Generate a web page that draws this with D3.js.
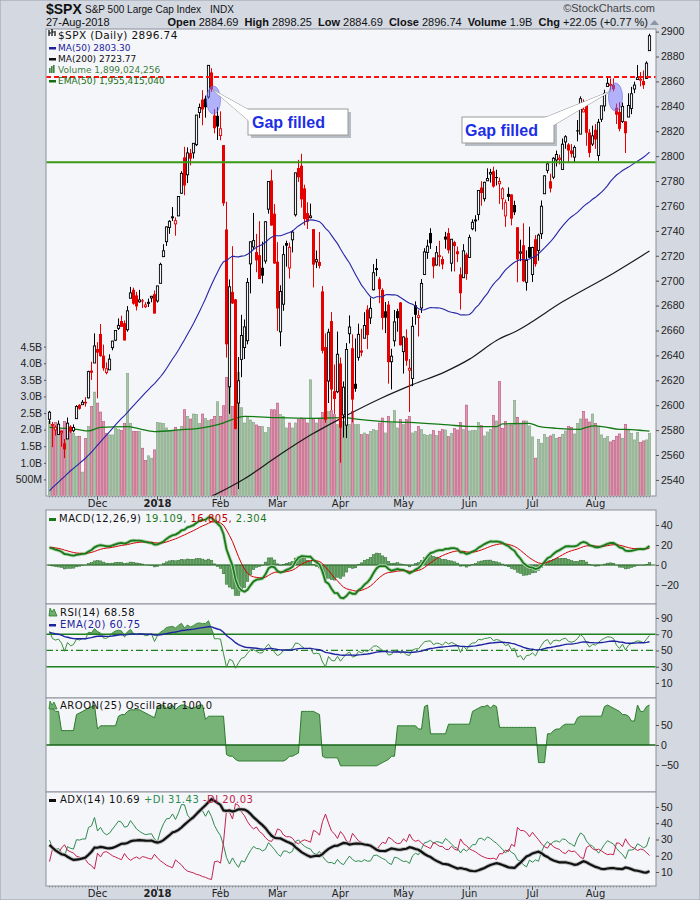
<!DOCTYPE html>
<html>
<head>
<meta charset="utf-8">
<script src="https://cdn.jsdelivr.net/npm/d3@7"></script>
<style>
  body { margin: 0; background: #fff; }
  text { font-family: "Liberation Sans", Arial, sans-serif; }
</style>
</head>
<body>
<svg id="chart" width="700" height="900"></svg>
<script>
// ---- data ----
var dates = [
 "2017-11-08","2017-11-09","2017-11-10","2017-11-13","2017-11-14","2017-11-15","2017-11-16","2017-11-17","2017-11-20","2017-11-21",
 "2017-11-22","2017-11-24","2017-11-27","2017-11-28","2017-11-29","2017-11-30","2017-12-01","2017-12-04","2017-12-05","2017-12-06",
 "2017-12-07","2017-12-08","2017-12-11","2017-12-12","2017-12-13","2017-12-14","2017-12-15","2017-12-18","2017-12-19","2017-12-20",
 "2017-12-21","2017-12-22","2017-12-26","2017-12-27","2017-12-28","2017-12-29","2018-01-02","2018-01-03","2018-01-04","2018-01-05",
 "2018-01-08","2018-01-09","2018-01-10","2018-01-11","2018-01-12","2018-01-16","2018-01-17","2018-01-18","2018-01-19","2018-01-22",
 "2018-01-23","2018-01-24","2018-01-25","2018-01-26","2018-01-29","2018-01-30","2018-01-31","2018-02-01","2018-02-02","2018-02-05",
 "2018-02-06","2018-02-07","2018-02-08","2018-02-09","2018-02-12","2018-02-13","2018-02-14","2018-02-15","2018-02-16","2018-02-20",
 "2018-02-21","2018-02-22","2018-02-23","2018-02-26","2018-02-27","2018-02-28","2018-03-01","2018-03-02","2018-03-05","2018-03-06",
 "2018-03-07","2018-03-08","2018-03-09","2018-03-12","2018-03-13","2018-03-14","2018-03-15","2018-03-16","2018-03-19","2018-03-20",
 "2018-03-21","2018-03-22","2018-03-23","2018-03-26","2018-03-27","2018-03-28","2018-03-29","2018-04-02","2018-04-03","2018-04-04",
 "2018-04-05","2018-04-06","2018-04-09","2018-04-10","2018-04-11","2018-04-12","2018-04-13","2018-04-16","2018-04-17","2018-04-18",
 "2018-04-19","2018-04-20","2018-04-23","2018-04-24","2018-04-25","2018-04-26","2018-04-27","2018-04-30","2018-05-01","2018-05-02",
 "2018-05-03","2018-05-04","2018-05-07","2018-05-08","2018-05-09","2018-05-10","2018-05-11","2018-05-14","2018-05-15","2018-05-16",
 "2018-05-17","2018-05-18","2018-05-21","2018-05-22","2018-05-23","2018-05-24","2018-05-25","2018-05-29","2018-05-30","2018-05-31",
 "2018-06-01","2018-06-04","2018-06-05","2018-06-06","2018-06-07","2018-06-08","2018-06-11","2018-06-12","2018-06-13","2018-06-14",
 "2018-06-15","2018-06-18","2018-06-19","2018-06-20","2018-06-21","2018-06-22","2018-06-25","2018-06-26","2018-06-27","2018-06-28",
 "2018-06-29","2018-07-02","2018-07-03","2018-07-05","2018-07-06","2018-07-09","2018-07-10","2018-07-11","2018-07-12","2018-07-13",
 "2018-07-16","2018-07-17","2018-07-18","2018-07-19","2018-07-20","2018-07-23","2018-07-24","2018-07-25","2018-07-26","2018-07-27",
 "2018-07-30","2018-07-31","2018-08-01","2018-08-02","2018-08-03","2018-08-06","2018-08-07","2018-08-08","2018-08-09","2018-08-10",
 "2018-08-13","2018-08-14","2018-08-15","2018-08-16","2018-08-17","2018-08-20","2018-08-21","2018-08-22","2018-08-23","2018-08-24",
 "2018-08-27"];

var open = [
 2588.7,2584.0,2580.2,2576.5,2577.8,2569.4,2572.9,2582.9,2579.5,2589.2,
 2600.3,2600.4,2602.7,2605.9,2627.8,2633.9,2645.1,2657.2,2639.8,2626.2,
 2628.4,2646.2,2652.2,2661.7,2667.6,2665.9,2660.6,2685.9,2692.7,2688.2,
 2683.0,2684.2,2679.1,2682.1,2686.1,2689.2,2683.7,2697.9,2719.3,2731.3,
 2742.7,2751.2,2745.6,2752.0,2770.2,2799.0,2785.0,2802.4,2802.6,2809.2,
 2835.1,2845.4,2846.2,2847.5,2867.2,2832.7,2832.4,2816.5,2808.9,2741.1,
 2614.8,2691.0,2685.0,2601.8,2636.8,2646.3,2651.8,2713.5,2727.1,2723.0,
 2720.5,2710.4,2715.8,2757.4,2780.5,2753.8,2715.2,2658.9,2681.1,2730.2,
 2710.2,2732.8,2752.9,2790.5,2792.3,2774.1,2754.3,2750.6,2741.4,2715.1,
 2715.0,2691.4,2646.7,2619.4,2667.6,2611.3,2610.8,2633.5,2592.2,2584.0,
 2657.4,2645.8,2617.2,2638.4,2643.9,2653.8,2676.9,2670.1,2692.7,2710.1,
 2701.2,2692.6,2675.4,2680.8,2634.9,2651.7,2675.5,2682.5,2643.0,2654.2,
 2628.1,2621.5,2680.3,2670.3,2678.1,2705.0,2722.7,2738.3,2718.6,2712.6,
 2719.7,2717.4,2735.4,2738.3,2714.0,2730.9,2723.6,2705.1,2702.4,2721.0,
 2718.7,2741.7,2748.5,2753.2,2774.8,2765.8,2780.2,2785.6,2787.9,2783.2,
 2777.8,2765.8,2752.0,2769.7,2769.3,2760.8,2742.9,2722.1,2728.5,2698.7,
 2727.1,2705.0,2733.3,2724.2,2737.7,2769.8,2788.6,2779.8,2783.1,2796.9,
 2797.4,2789.3,2811.4,2809.4,2804.6,2799.2,2820.7,2817.7,2835.5,2842.4,
 2819.0,2809.7,2821.2,2800.5,2829.6,2840.3,2855.9,2856.8,2857.2,2838.9,
 2835.5,2827.9,2828.0,2831.4,2838.3,2853.9,2861.5,2861.0,2860.3,2862.4,
 2884.7];

var high = [
 2595.5,2586.5,2583.8,2587.7,2579.7,2572.8,2590.1,2583.9,2584.6,2600.0,
 2600.9,2604.2,2606.4,2627.7,2634.9,2657.7,2650.6,2665.2,2648.7,2634.4,
 2640.9,2651.7,2660.3,2669.7,2671.9,2668.1,2679.6,2695.0,2694.4,2691.0,
 2692.6,2685.4,2682.7,2685.6,2687.7,2692.1,2695.9,2714.4,2729.3,2743.5,
 2748.5,2759.1,2750.8,2767.6,2787.9,2807.5,2807.0,2805.8,2810.3,2833.0,
 2842.2,2853.0,2848.6,2872.9,2870.6,2837.8,2839.3,2836.0,2808.9,2763.4,
 2701.0,2727.7,2685.3,2638.7,2672.6,2668.8,2702.1,2731.5,2754.4,2737.6,
 2747.8,2731.3,2747.8,2780.0,2789.2,2761.5,2730.9,2696.3,2728.1,2732.1,
 2730.6,2740.5,2786.6,2797.0,2801.9,2777.1,2763.0,2761.9,2741.4,2724.2,
 2739.1,2695.7,2657.7,2661.4,2674.8,2632.7,2659.1,2638.3,2619.1,2649.9,
 2672.1,2656.9,2653.6,2665.5,2661.4,2674.7,2680.3,2686.5,2713.3,2717.5,
 2702.8,2693.9,2682.9,2683.6,2645.3,2676.5,2677.4,2682.9,2655.3,2660.9,
 2637.1,2670.9,2683.4,2676.3,2701.3,2726.1,2732.9,2742.1,2718.6,2727.8,
 2732.0,2719.5,2739.2,2742.2,2733.3,2732.0,2727.4,2710.7,2729.3,2722.5,
 2736.9,2749.2,2752.6,2772.4,2779.9,2779.4,2790.2,2789.8,2791.5,2789.1,
 2782.8,2775.0,2765.1,2774.9,2769.3,2764.2,2742.9,2732.9,2746.1,2724.3,
 2743.3,2727.3,2736.6,2737.8,2764.4,2784.7,2795.6,2785.9,2799.2,2804.5,
 2801.2,2814.2,2816.8,2810.5,2809.7,2808.6,2829.0,2848.0,2845.6,2843.2,
 2821.7,2824.5,2825.8,2829.9,2840.4,2853.3,2863.4,2862.4,2862.5,2842.2,
 2843.4,2843.1,2828.0,2850.5,2855.6,2859.8,2873.2,2867.5,2868.8,2876.2,
 2898.3];

var low = [
 2585.0,2566.3,2575.6,2576.5,2566.6,2557.5,2572.9,2577.6,2578.2,2589.2,
 2596.4,2600.4,2598.9,2605.4,2620.3,2633.9,2605.5,2639.0,2627.7,2624.8,
 2628.4,2644.1,2651.5,2660.4,2662.9,2652.0,2659.1,2685.9,2680.7,2676.1,
 2682.4,2678.1,2678.0,2678.9,2682.7,2673.6,2682.4,2697.8,2719.1,2727.9,
 2737.6,2747.9,2736.1,2752.0,2769.6,2768.6,2778.4,2792.6,2798.1,2808.1,
 2830.6,2824.8,2830.9,2846.2,2851.5,2818.3,2813.0,2812.7,2760.0,2638.2,
 2593.1,2681.3,2580.6,2532.7,2622.5,2637.1,2648.9,2689.8,2725.1,2706.8,
 2701.3,2697.8,2713.7,2753.8,2744.2,2713.5,2659.7,2647.3,2675.8,2711.3,
 2701.7,2722.7,2751.5,2779.3,2758.7,2744.4,2741.5,2750.0,2694.6,2710.1,
 2709.8,2641.6,2585.9,2601.8,2596.1,2593.1,2609.7,2553.8,2574.0,2573.6,
 2649.6,2586.3,2610.8,2635.8,2639.3,2653.8,2645.1,2665.2,2692.1,2703.6,
 2681.9,2660.6,2657.9,2617.3,2612.7,2647.2,2659.0,2648.0,2625.4,2631.7,
 2594.6,2615.3,2664.7,2655.2,2674.1,2704.5,2717.5,2725.5,2701.9,2712.2,
 2711.4,2709.2,2725.7,2721.9,2707.4,2707.4,2715.0,2676.8,2702.4,2700.7,
 2718.7,2740.5,2739.5,2748.5,2760.2,2763.6,2780.2,2778.8,2774.7,2776.5,
 2761.7,2757.1,2743.2,2763.9,2744.4,2752.7,2698.7,2715.6,2699.0,2692.0,
 2718.0,2699.0,2711.2,2716.0,2733.5,2769.8,2786.2,2770.8,2781.5,2791.7,
 2793.4,2789.2,2805.9,2795.1,2799.0,2795.1,2811.9,2817.7,2835.3,2808.3,
 2799.0,2808.1,2805.9,2796.3,2827.4,2836.0,2855.9,2853.1,2852.0,2825.8,
 2819.9,2826.6,2802.5,2831.4,2833.7,2850.6,2861.3,2856.1,2854.0,2862.4,
 2884.7];

var close = [
 2594.4,2584.6,2582.3,2584.8,2578.9,2564.6,2585.6,2578.9,2582.1,2599.0,
 2597.1,2602.4,2601.4,2627.0,2626.1,2647.6,2642.2,2639.4,2629.6,2629.3,
 2637.0,2651.5,2660.0,2664.1,2662.9,2652.0,2675.8,2690.2,2681.5,2679.3,
 2684.6,2683.3,2680.5,2682.6,2687.5,2673.6,2695.8,2713.1,2724.0,2743.2,
 2747.7,2751.3,2748.2,2767.6,2786.2,2776.4,2802.6,2798.0,2810.3,2833.0,
 2839.1,2837.5,2839.3,2872.9,2853.5,2822.4,2823.8,2822.0,2762.1,2648.9,
 2695.1,2681.7,2581.0,2619.6,2656.0,2662.9,2698.6,2731.2,2732.2,2716.3,
 2701.3,2704.0,2747.3,2779.6,2744.3,2713.8,2677.7,2691.3,2720.9,2728.1,
 2726.8,2739.0,2786.6,2783.0,2765.3,2749.5,2747.3,2752.0,2712.9,2716.9,
 2711.9,2643.7,2588.3,2658.6,2612.6,2605.0,2640.9,2581.9,2614.5,2644.7,
 2662.8,2604.5,2613.2,2656.9,2642.2,2664.0,2656.3,2677.8,2706.4,2708.6,
 2693.1,2670.1,2670.3,2634.6,2639.4,2666.9,2669.9,2648.1,2654.8,2635.7,
 2629.7,2663.4,2672.6,2671.9,2697.8,2723.1,2727.7,2730.1,2711.5,2722.5,
 2720.1,2713.0,2733.0,2724.4,2733.3,2727.8,2721.3,2689.9,2724.0,2705.3,
 2734.6,2746.9,2748.8,2772.4,2770.4,2779.0,2782.0,2786.9,2775.6,2782.5,
 2779.7,2773.8,2762.6,2767.3,2749.8,2754.9,2717.1,2723.1,2699.6,2716.3,
 2718.4,2726.7,2713.2,2736.6,2759.8,2784.2,2793.8,2774.0,2798.3,2801.3,
 2798.4,2809.6,2815.6,2804.5,2801.8,2807.0,2820.4,2846.1,2837.4,2818.8,
 2802.6,2816.3,2813.4,2827.2,2840.4,2850.4,2858.5,2857.7,2853.6,2833.3,
 2821.9,2840.0,2818.4,2840.7,2850.1,2857.1,2863.0,2861.8,2857.0,2874.7,
 2896.7];

// volume, billions of shares
var volume = [
 2.24,2.09,2.22,2.04,1.99,2.25,1.94,2.04,1.89,1.79,
 1.80,0.72,1.73,2.10,2.70,3.13,2.80,2.53,2.24,1.89,
 1.84,1.84,2.04,2.00,1.97,2.19,3.69,2.19,1.94,1.94,
 1.94,1.44,1.07,1.21,1.14,1.39,2.22,2.20,2.18,2.05,
 1.98,1.97,2.07,1.97,2.10,2.60,2.40,2.32,2.47,2.45,
 2.18,2.47,2.33,2.27,2.30,2.40,2.84,2.40,2.72,3.57,
 3.40,2.70,3.30,3.72,2.66,2.20,2.39,2.29,2.22,2.14,
 2.10,2.09,1.91,2.07,2.60,2.60,2.80,2.45,2.40,2.05,
 2.20,2.05,2.20,2.30,2.35,2.30,2.20,3.50,2.30,2.20,
 2.30,2.52,2.55,2.55,2.57,2.45,2.15,2.25,2.25,2.45,
 2.15,2.55,2.15,2.15,1.85,1.90,1.85,1.95,2.00,1.97,
 2.20,2.35,1.90,2.40,2.20,2.57,2.05,2.30,2.15,2.30,
 2.40,1.90,1.95,2.10,2.00,1.85,1.83,1.85,1.97,1.82,
 1.95,2.00,1.99,1.79,1.89,2.04,1.99,2.22,2.00,2.74,
 1.96,1.98,1.98,2.22,2.12,1.81,1.93,2.01,2.43,2.26,
 3.45,2.04,2.25,2.14,2.14,2.88,2.37,2.19,2.26,2.26,
 2.11,1.78,1.14,1.71,1.59,1.86,1.77,1.81,1.86,1.74,
 1.77,1.86,1.96,2.09,2.07,1.87,2.19,2.32,2.55,2.32,
 2.23,2.47,2.19,2.09,1.84,1.74,1.79,1.63,1.68,1.80,
 1.87,1.74,2.16,1.99,1.89,1.69,1.92,1.61,1.66,1.69,
 1.89];

// earlier sessions (28-Aug-2017 .. 7-Nov-2017), only used to warm up the indicators
var warmHigh = [2448.9,2449.2,2460.4,2475.0,
 2480.4,2472.0,2469.6,2468.6,2467.1,2489.0,2496.8,2498.4,2498.4,2500.2,2508.3,2507.8,2508.9,2507.2,2503.5,2502.5,2503.5,2511.8,2510.8,2519.4,
 2529.2,2535.1,2540.5,2552.5,2550.0,2551.8,2555.2,2555.2,2555.3,2557.7,2559.7,2559.7,2562.4,2562.4,2575.4,2578.3,2572.2,2567.4,2567.1,2583.0,2580.2,2578.3,
 2588.4,2581.1,2588.4,2593.4,2597.0];
var warmLow = [2437.9,2428.2,2443.8,2462.2,
 2473.9,2446.6,2459.2,2460.3,2459.4,2474.0,2488.2,2492.1,2491.9,2493.2,2499.9,2503.2,2496.3,2499.0,2496.5,2488.0,2495.1,2499.0,2502.9,2507.8,
 2520.4,2528.9,2531.8,2540.0,2543.8,2541.6,2544.4,2544.9,2548.3,2552.1,2554.6,2551.9,2557.7,2547.9,2567.6,2564.3,2566.0,2544.0,2559.5,2565.9,2568.7,2572.1,
 2574.9,2566.2,2576.8,2583.2,2584.4];
var warmClose = [2444.2,2446.3,2457.6,2471.7,
 2476.6,2457.9,2465.5,2465.1,2461.4,2488.1,2496.5,2498.4,2495.6,2500.2,2503.9,2506.7,2508.2,2500.6,2502.2,2496.7,2496.8,2507.0,2510.1,2519.4,
 2529.1,2534.6,2537.7,2552.1,2549.3,2544.7,2550.6,2555.2,2550.9,2553.2,2557.6,2559.4,2561.3,2562.1,2575.2,2565.0,2569.1,2557.2,2560.4,2581.1,2572.8,2575.3,
 2579.4,2579.9,2587.8,2591.1,2590.6];

// MA(200) of price and EMA(50) of volume
var ma200Dates = ["2017-11-08","2017-12-07","2018-01-08","2018-01-30","2018-02-13","2018-03-01","2018-03-16","2018-04-03","2018-04-19",
                  "2018-05-04","2018-05-21","2018-06-01","2018-06-14","2018-06-25","2018-07-17","2018-08-09","2018-08-27"];
var ma200Vals = [2462,2488,2512,2528,2541,2559,2576,2590.5,2605,2616.5,2627,2637,2652,2660,2683,2706,2723.8];
var volEmaDates = ["2017-11-08","2017-11-15","2017-11-21","2017-11-28","2017-12-04","2017-12-15","2017-12-21","2017-12-29","2018-01-11",
                   "2018-01-25","2018-02-01","2018-02-07","2018-02-13","2018-03-01","2018-03-16","2018-04-03","2018-04-11","2018-04-23",
                   "2018-05-03","2018-05-22","2018-05-31","2018-06-14","2018-06-18","2018-06-29","2018-07-05","2018-07-13","2018-07-25",
                   "2018-07-27","2018-08-01","2018-08-06","2018-08-13","2018-08-17","2018-08-23","2018-08-27"];
var volEmaVals = [2.07,2.04,2.01,1.96,2.07,2.09,2.02,1.94,1.99,2.07,2.17,2.31,2.40,2.36,2.34,2.36,2.30,2.24,
                  2.22,2.14,2.10,2.09,2.17,2.19,2.10,2.04,2.01,2.07,2.11,2.08,2.01,2.00,1.97,1.955];

var levelPrices = [2863.5, 2795.2];   // red dashed, green solid
var gapDates = ["2018-01-30", "2018-08-10"];
var gapPrices = [2845, 2847.5];

var monthStarts = ["2017-12-01","2018-01-02","2018-02-01","2018-03-01","2018-04-02","2018-05-01","2018-06-01","2018-07-02","2018-08-01"];
var monthLabels = ["Dec","2018","Feb","Mar","Apr","May","Jun","Jul","Aug"];
var priceTicks = [2540,2560,2580,2600,2620,2640,2660,2680,2700,2720,2740,2760,2780,2800,2820,2840,2860,2880,2900];
var volTicks = [0.5,1.0,1.5,2.0,2.5,3.0,3.5,4.0,4.5];
var macdTicks = [-20,0,20,40];
var rsiTicks = [10,30,50,70,90];
var aroonTicks = [-50,0,50];
var adxTicks = [10,20,30,40,50];

// ---- indicators ----
var W = warmClose.length;
var cA = warmClose.concat(close), hA = warmHigh.concat(high), lA = warmLow.concat(low);
var N = cA.length;

function sma(a, p, i) { var s = 0; for (var k = i - p + 1; k <= i; k++) s += a[k]; return s / p; }
function ema(a, p, start) {
  var out = new Array(a.length).fill(null), k = 2 / (p + 1), seed = start + p - 1;
  out[seed] = sma(a, p, seed);
  for (var i = seed + 1; i < a.length; i++) out[i] = a[i] * k + out[i - 1] * (1 - k);
  return out;
}
var ma50 = cA.map(function(c, i) { return i >= 49 ? sma(cA, 50, i) : null; });
var e12 = ema(cA, 12, 0), e26 = ema(cA, 26, 0);
var macd = cA.map(function(c, i) { return e26[i] == null ? null : e12[i] - e26[i]; });
var sig = ema(macd, 9, 25);
var hist = macd.map(function(m, i) { return sig[i] == null ? null : m - sig[i]; });

var rsi = new Array(N).fill(null), ag = 0, al = 0;
for (var i = 1; i <= 14; i++) { var d = cA[i] - cA[i - 1]; if (d > 0) ag += d; else al -= d; }
ag /= 14; al /= 14; rsi[14] = 100 - 100 / (1 + ag / al);
for (var i = 15; i < N; i++) {
  var d = cA[i] - cA[i - 1];
  ag = (ag * 13 + Math.max(d, 0)) / 14; al = (al * 13 + Math.max(-d, 0)) / 14;
  rsi[i] = 100 - 100 / (1 + ag / al);
}
var rsiEma = ema(rsi, 20, 14);

var tr = [0], pdm = [0], mdm = [0];
for (var i = 1; i < N; i++) {
  var up = hA[i] - hA[i - 1], dn = lA[i - 1] - lA[i];
  pdm[i] = up > dn && up > 0 ? up : 0;
  mdm[i] = dn > up && dn > 0 ? dn : 0;
  tr[i] = Math.max(hA[i] - lA[i], Math.abs(hA[i] - cA[i - 1]), Math.abs(lA[i] - cA[i - 1]));
}
var sTr = 0, sP = 0, sM = 0, pdi = new Array(N).fill(null), mdi = new Array(N).fill(null), dx = [], adx = new Array(N).fill(null);
for (var i = 1; i < N; i++) {
  if (i <= 14) { sTr += tr[i]; sP += pdm[i]; sM += mdm[i]; }
  else { sTr = sTr - sTr / 14 + tr[i]; sP = sP - sP / 14 + pdm[i]; sM = sM - sM / 14 + mdm[i]; }
  if (i >= 14) {
    pdi[i] = 100 * sP / sTr; mdi[i] = 100 * sM / sTr;
    dx[i] = 100 * Math.abs(pdi[i] - mdi[i]) / (pdi[i] + mdi[i]);
  }
}
adx[27] = d3.mean(dx.slice(14, 28));
for (var i = 28; i < N; i++) adx[i] = (adx[i - 1] * 13 + dx[i]) / 14;

var aroon = new Array(N).fill(null);
for (var i = 25; i < N; i++) {
  var hi = i - 25, lo = i - 25;
  for (var j = i - 25; j <= i; j++) { if (hA[j] >= hA[hi]) hi = j; if (lA[j] <= lA[lo]) lo = j; }
  aroon[i] = 100 * (25 - (i - hi)) / 25 - 100 * (25 - (i - lo)) / 25;
}
function cut(a) { return a.slice(W); }
ma50 = cut(ma50); macd = cut(macd); sig = cut(sig); hist = cut(hist);
rsi = cut(rsi); rsiEma = cut(rsiEma); pdi = cut(pdi); mdi = cut(mdi); adx = cut(adx); aroon = cut(aroon);

// ---- layout ----
var svg = d3.select("#chart");
var L = 46, R = 656;
var OUTER = "#d3d8e1", PLOT = "#f5f6fa", FRAME = "#8b909a";
var RED = "#e60000", GREEN_LINE = "#1f7f1f";

svg.append("rect").attr("width", 700).attr("height", 900).attr("fill", OUTER).attr("stroke", "#9aa0aa");

var x = d3.scalePoint().domain(dates).range([49.5, 649.5]);

function panel(id, y0, y1) {
  svg.append("rect").attr("x", L).attr("y", y0).attr("width", R - L).attr("height", y1 - y0)
    .attr("fill", PLOT).attr("stroke", FRAME);
  svg.append("clipPath").attr("id", id).append("rect").attr("x", L + 0.5).attr("y", y0 + 0.5)
    .attr("width", R - L - 1).attr("height", y1 - y0 - 1);
  return svg.append("g").attr("clip-path", "url(#" + id + ")");
}
function rightAxis(scale, ticks, fmt) {
  var g = svg.append("g").attr("transform", "translate(" + R + ",0)")
    .call(d3.axisRight(scale).tickValues(ticks).tickSize(3).tickPadding(2).tickFormat(fmt || d3.format("d")));
  g.select(".domain").remove();
  g.selectAll("line").attr("stroke", "#555");
  g.selectAll("text").attr("fill", "#222").style("font-family", "Liberation Sans, Arial, sans-serif").style("font-size", "10.5px");
}
function legend(xp, yp, parts, size, ls) {
  var t = svg.append("text").attr("x", xp).attr("y", yp)
    .style("font-family", "DejaVu Sans, sans-serif").style("font-size", size + "px").style("letter-spacing", (ls || 0) + "px");
  parts.forEach(function(p) { t.append("tspan").attr("fill", p[1]).text(p[0]); });
}
function dash(xp, yp, color, h) {
  svg.append("rect").attr("x", xp).attr("y", yp - 4).attr("width", 7).attr("height", h || 2.5).attr("fill", color);
}
function mountain(xp, yp) {
  svg.append("path").attr("d", "M" + xp + "," + (yp + 1) + " l1,-8 l2,4 l2,-3 l3,7 z")
    .attr("fill", "#6fae6f").attr("stroke", "#2b7b2b").attr("stroke-width", 0.8);
}
function monthLabelsAt(yp) {
  monthStarts.forEach(function(d, k) {
    svg.append("text").attr("x", x(d)).attr("y", yp).attr("text-anchor", "middle")
      .style("font-family", "DejaVu Sans, sans-serif").style("font-size", "10px")
      .style("font-weight", monthLabels[k] === "2018" ? "bold" : "normal")
      .attr("fill", "#222").text(monthLabels[k]);
  });
}
function barTicks(yp) {
  svg.append("g").selectAll("line").data(dates).join("line")
    .attr("x1", function(d) { return x(d); }).attr("x2", function(d) { return x(d); })
    .attr("y1", yp).attr("y2", yp + 1.5)
    .attr("stroke", "#777").attr("stroke-width", 0.7);
  svg.append("g").selectAll("line").data(monthStarts).join("line")
    .attr("x1", function(d) { return x(d); }).attr("x2", function(d) { return x(d); })
    .attr("y1", yp).attr("y2", yp + 4).attr("stroke", "#555");
}

// ---- header ----
svg.append("text").attr("x", 46).attr("y", 14).style("font-size", "14px").style("font-weight", "bold").attr("fill", "#111").text("$SPX");
svg.append("text").attr("x", 85).attr("y", 13).style("font-size", "10px").attr("fill", "#111").text("S&P 500 Large Cap Index");
svg.append("text").attr("x", 210).attr("y", 13).style("font-size", "10px").attr("fill", "#111").text("INDX");
svg.append("text").attr("x", 46).attr("y", 26).style("font-size", "11px").attr("fill", "#111").text("27-Aug-2018");
(function() {
  var t = svg.append("text").attr("x", 648).attr("y", 26).attr("text-anchor", "end").style("font-size", "11px").attr("fill", "#111");
  [["Open", 1], [" 2884.69  ", 0], ["High", 1], [" 2898.25  ", 0], ["Low", 1], [" 2884.69  ", 0],
   ["Close", 1], [" 2896.74  ", 0], ["Volume", 1], [" 1.9B  ", 0], ["Chg", 1], [" +22.05 (+0.77 %)", 0]]
   .forEach(function(p) { t.append("tspan").style("font-weight", p[1] ? "bold" : "normal").attr("xml:space", "preserve").text(p[0]); });
})();
svg.append("path").attr("d", "M650,25 L654.5,20 L659,25 Z").attr("fill", "#8c95a6");
svg.append("text").attr("x", 655).attr("y", 12).attr("text-anchor", "end").style("font-size", "11px").attr("fill", "#444").text("\u00a9StockCharts.com");

// ---- main price panel ----
var yP = d3.scaleLinear().domain([2527.1, 2902.1]).range([496, 29]);
var yV = d3.scaleLinear().domain([0, 14.07]).range([496, 29]);
var gm = panel("clipMain", 29, 496);

var prevClose = close.map(function(c, i) { return i ? close[i - 1] : warmClose[W - 1]; });
var down = close.map(function(c, i) { return c < prevClose[i]; });

gm.append("g").selectAll("rect").data(volume).join("rect")
  .attr("x", function(v, i) { return x(dates[i]) - 1.2; }).attr("width", 2.4)
  .attr("y", function(v) { return yV(v); }).attr("height", function(v) { return yV(0) - yV(v); })
  .attr("fill", function(v, i) { return down[i] ? "#d99ab0" : "#a9c4a9"; })
  .attr("stroke", function(v, i) { return down[i] ? "#c0577e" : "#84a784"; }).attr("stroke-width", 0.6);

gm.append("path").datum(volEmaVals)
  .attr("d", d3.line().x(function(v, i) { return x(volEmaDates[i]); }).y(function(v) { return yV(v); }).curve(d3.curveMonotoneX))
  .attr("fill", "none").attr("stroke", "#137a13").attr("stroke-width", 1.3);

gm.append("path").datum(ma200Vals)
  .attr("d", d3.line().x(function(v, i) { return x(ma200Dates[i]); }).y(function(v) { return yP(v); }).curve(d3.curveMonotoneX))
  .attr("fill", "none").attr("stroke", "#1b1b1b").attr("stroke-width", 1.2);

// candles
var cg = gm.append("g");
close.forEach(function(c, i) {
  var xc = x(dates[i]), col = down[i] ? RED : "#000", hollow = c >= open[i];
  cg.append("line").attr("x1", xc).attr("x2", xc).attr("y1", yP(high[i])).attr("y2", yP(low[i]))
    .attr("stroke", col).attr("stroke-width", 1);
  var top = yP(Math.max(open[i], c)), bot = yP(Math.min(open[i], c));
  if (hollow) {
    cg.append("rect").attr("x", xc - 1.1).attr("y", top).attr("width", 2.2).attr("height", Math.max(bot - top, 1))
      .attr("fill", PLOT).attr("stroke", col).attr("stroke-width", 0.9);
  } else {
    cg.append("rect").attr("x", xc - 1.5).attr("y", top).attr("width", 3).attr("height", Math.max(bot - top, 1))
      .attr("fill", col);
  }
});

gm.append("path").datum(ma50)
  .attr("d", d3.line().defined(function(v) { return v != null; }).x(function(v, i) { return x(dates[i]); }).y(function(v) { return yP(v); }))
  .attr("fill", "none").attr("stroke", "#2424a6").attr("stroke-width", 1.1);

// legend
svg.append("path").attr("d", "M49,36 v-6 M49,33 h2 M52,36 v-7 M52,32 h2 M55,36 v-5").attr("stroke", "#000").attr("stroke-width", 1.2);
legend(58, 39, [["$SPX (Daily) 2896.74", "#111"]], 10.5, 0.4);
dash(49, 51, "#22229c"); legend(58, 51, [["MA(50) 2803.30", "#22229c"]], 9);
dash(49, 62, "#111"); legend(58, 62, [["MA(200) 2723.77", "#111"]], 9);
svg.append("path").attr("d", "M49,73 v-5 h1.6 v5 M51,73 v-7 h1.6 v7 M53,73 v-8 h1.6 v8").attr("fill", "#3f7f3f");
legend(58, 73, [["Volume 1,899,024,256", "#3f7f3f"]], 9);
dash(49, 84, "#157015"); legend(58, 84, [["EMA(50) 1,955,415,040", "#157015"]], 9);

// horizontal levels
gm.append("line").attr("x1", L).attr("x2", R).attr("y1", yP(levelPrices[0])).attr("y2", yP(levelPrices[0]))
  .attr("stroke", "#ff1010").attr("stroke-width", 2).attr("stroke-dasharray", "5,3");
gm.append("line").attr("x1", L).attr("x2", R).attr("y1", yP(levelPrices[1])).attr("y2", yP(levelPrices[1]))
  .attr("stroke", "#3a9a16").attr("stroke-width", 2);

// gap annotations
gapDates.forEach(function(d, k) {
  gm.append("ellipse").attr("cx", x(d) - 1).attr("cy", yP(gapPrices[k])).attr("rx", 7).attr("ry", 14)
    .attr("fill", "rgba(110,110,250,0.5)").attr("stroke", "rgba(110,110,230,0.6)");
});
function callout(bx, by, bw, bh, pointer, tx, ty) {
  svg.append("rect").attr("x", bx + 3).attr("y", by + 3).attr("width", bw).attr("height", bh).attr("fill", "#b8bcc4");
  svg.append("polygon").attr("points", pointer).attr("fill", "#fff").attr("stroke", "#8d8d8d");
  svg.append("rect").attr("x", bx).attr("y", by).attr("width", bw).attr("height", bh).attr("fill", "#fff").attr("stroke", "#9a9a9a");
  svg.append("polygon").attr("points", pointer).attr("fill", "#fff").attr("stroke", "none");
  svg.append("text").attr("x", tx).attr("y", ty).style("font-size", "16px").style("font-weight", "bold")
    .attr("fill", "#1c2ee6").text("Gap filled");
}
callout(248, 109, 100, 26, "213,90 249,110 249,121", 252, 128);
callout(462, 117, 92, 26, "611,91 544,118 554,125", 465, 136);

rightAxis(yP, priceTicks);
(function() {
  var g = svg.append("g").attr("transform", "translate(" + L + ",0)")
    .call(d3.axisLeft(yV).tickValues(volTicks).tickSize(2).tickPadding(2)
      .tickFormat(function(v) { return v < 1 ? "500M" : v.toFixed(1) + "B"; }));
  g.select(".domain").remove();
  g.selectAll("line").attr("stroke", "#555");
  g.selectAll("text").attr("fill", "#222").style("font-family", "Liberation Sans, Arial, sans-serif").style("font-size", "10.5px");
})();
barTicks(496);
monthLabelsAt(507);

// ---- MACD ----
var yM = d3.scaleLinear().domain([-39, 55]).range([604, 510]);
var gM = panel("clipMacd", 510, 604);
gM.append("g").selectAll("rect").data(hist).join("rect")
  .attr("x", function(v, i) { return x(dates[i]) - 1.3; }).attr("width", 2.6)
  .attr("y", function(v) { return Math.min(yM(v), yM(0)); })
  .attr("height", function(v) { return Math.abs(yM(v) - yM(0)); })
  .attr("fill", "#6aa86a").attr("stroke", "#2e6e2e").attr("stroke-width", 0.5);
gM.append("line").attr("x1", L).attr("x2", R).attr("y1", yM(0)).attr("y2", yM(0)).attr("stroke", "#2e6e2e").attr("stroke-width", 1);
var lineM = function(a) { return d3.line().x(function(v, i) { return x(dates[i]); }).y(function(v) { return yM(v); })(a); };
gM.append("path").attr("d", lineM(macd)).attr("fill", "none").attr("stroke", "#b3d6b3").attr("stroke-width", 3.6);
gM.append("path").attr("d", lineM(sig)).attr("fill", "none").attr("stroke", "#d10000").attr("stroke-width", 1);
gM.append("path").attr("d", lineM(macd)).attr("fill", "none").attr("stroke", "#1a7a1a").attr("stroke-width", 1.8);
dash(49, 522, "#1a7a1a", 3);
legend(59, 522, [["MACD(12,26,9) ", "#111"], ["19.109, ", "#1a7a1a"], ["16.805, ", "#c00000"], ["2.304", "#1a7a1a"]], 10, 0.5);
rightAxis(yM, macdTicks);

// ---- RSI ----
var yR = d3.scaleLinear().domain([-8.5, 107.2]).range([698, 604]);
var gR = panel("clipRsi", 604, 698);
gR.append("path").datum(rsi)
  .attr("d", d3.area().x(function(v, i) { return x(dates[i]); }).y0(yR(70)).y1(function(v) { return yR(Math.max(v, 70)); }))
  .attr("fill", "#5e9e5e").attr("opacity", 0.9);
[70, 30].forEach(function(v) {
  gR.append("line").attr("x1", L).attr("x2", R).attr("y1", yR(v)).attr("y2", yR(v)).attr("stroke", GREEN_LINE).attr("stroke-width", 1.4);
});
gR.append("line").attr("x1", L).attr("x2", R).attr("y1", yR(50)).attr("y2", yR(50)).attr("stroke", GREEN_LINE)
  .attr("stroke-width", 1.2).attr("stroke-dasharray", "7,3,2,3");
gR.append("path").datum(rsi)
  .attr("d", d3.line().x(function(v, i) { return x(dates[i]); }).y(function(v) { return yR(v); }))
  .attr("fill", "none").attr("stroke", "#3b8f3b").attr("stroke-width", 1);
gR.append("path").datum(rsiEma)
  .attr("d", d3.line().x(function(v, i) { return x(dates[i]); }).y(function(v) { return yR(v); }))
  .attr("fill", "none").attr("stroke", "#1e24a0").attr("stroke-width", 1.4);
mountain(49, 615);
legend(60, 616, [["RSI(14) 68.58", "#111"]], 10, 0.5);
dash(49, 628, "#1e24a0", 2.5);
legend(60, 628, [["EMA(20) 60.75", "#1e24a0"]], 10, 0.5);
rightAxis(yR, rsiTicks);

// ---- Aroon ----
var yA = d3.scaleLinear().domain([-117.5, 117.5]).range([792, 698]);
var gA = panel("clipAroon", 698, 792);
gA.append("path").datum(aroon)
  .attr("d", d3.area().x(function(v, i) { return x(dates[i]); }).y0(yA(0)).y1(function(v) { return yA(v); }))
  .attr("fill", "#77b277");
gA.append("path").datum(aroon)
  .attr("d", d3.line().x(function(v, i) { return x(dates[i]); }).y(function(v) { return yA(v); }))
  .attr("fill", "none").attr("stroke", "#2c7a2c").attr("stroke-width", 1);
gA.append("line").attr("x1", L).attr("x2", R).attr("y1", yA(0)).attr("y2", yA(0)).attr("stroke", "#176417").attr("stroke-width", 1.5);
mountain(49, 708);
legend(60, 709, [["AROON(25) Oscillator 100.0", "#111"]], 10, 0.5);
rightAxis(yA, aroonTicks);

// ---- ADX ----
var yD = d3.scaleLinear().domain([1.4, 59.2]).range([886, 792]);
var gD = panel("clipAdx", 792, 886);
var lineD = d3.line().defined(function(v) { return v != null; }).x(function(v, i) { return x(dates[i]); }).y(function(v) { return yD(v); });
gD.append("path").attr("d", lineD(pdi)).attr("fill", "none").attr("stroke", "#2e8a4e").attr("stroke-width", 1);
gD.append("path").attr("d", lineD(mdi)).attr("fill", "none").attr("stroke", "#c2204c").attr("stroke-width", 1);
gD.append("path").attr("d", lineD(adx)).attr("fill", "none").attr("stroke", "#bdbdbd").attr("stroke-width", 4);
gD.append("path").attr("d", lineD(adx)).attr("fill", "none").attr("stroke", "#111").attr("stroke-width", 2.2);
dash(49, 803, "#111", 3);
legend(60, 803, [["ADX(14) 10.69 ", "#111"], ["+DI 31.43 ", "#2e8a4e"], ["-DI 20.03", "#c2204c"]], 10, 0.5);
rightAxis(yD, adxTicks);
barTicks(886);
monthLabelsAt(897);
</script>
</body>
</html>
